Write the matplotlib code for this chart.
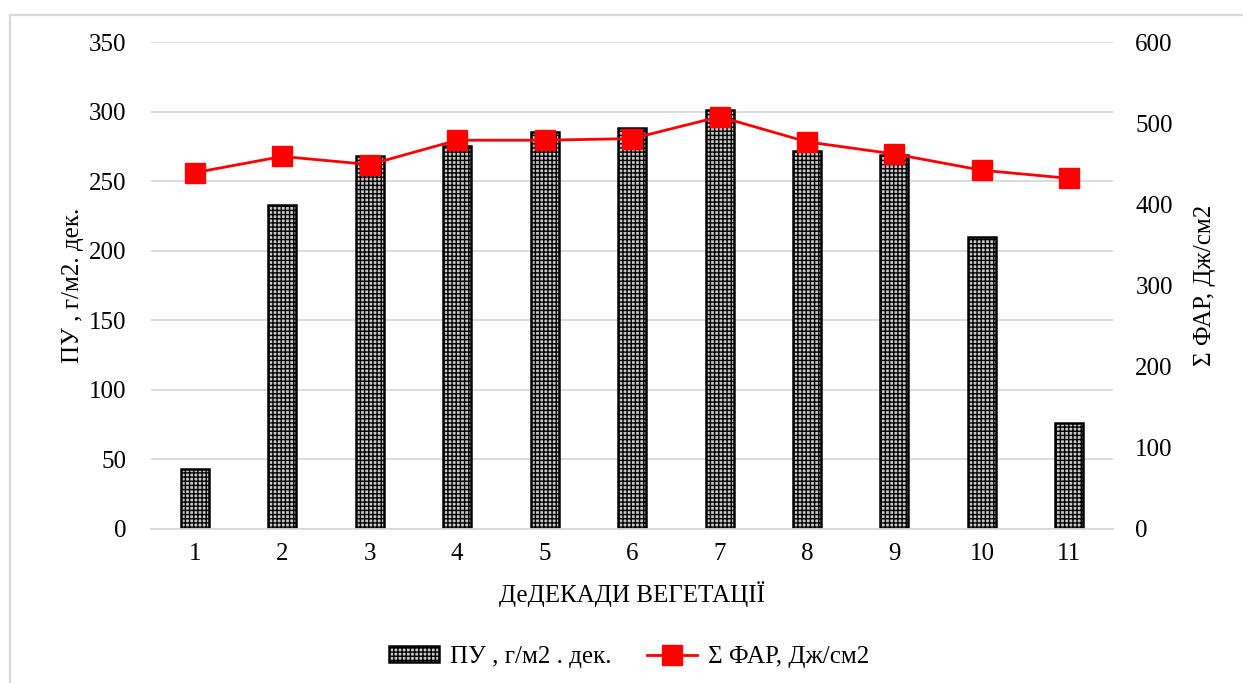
import matplotlib
matplotlib.use("Agg")
import matplotlib.pyplot as plt
from matplotlib.patches import Rectangle
import numpy as np

plt.rcParams['font.family'] = ['Liberation Serif', 'DejaVu Serif']
plt.rcParams['hatch.linewidth'] = 1.0

decades = ['1', '2', '3', '4', '5', '6', '7', '8', '9', '10', '11']
pu_values = [43, 233, 268, 275, 285, 288, 301, 272, 269, 210, 76]
far_values = [439, 459, 449, 479, 479, 481, 508, 477, 462, 442, 432]

bar_label = 'ПУ , г/м2 . дек.'
line_label = 'Σ ФАР, Дж/см2'

fig = plt.figure(figsize=(12.43, 6.83), dpi=100)
ax = fig.add_axes([0.1215, 0.2255, 0.774, 0.7130])
ax2 = ax.twinx()

x = np.arange(len(decades))
ax.bar(x, pu_values, width=0.32, facecolor='#c8c8c8', edgecolor='black',
       hatch='++++', linewidth=1.8, label=bar_label, zorder=2)
ax2.plot(x, far_values, color='#ff0000', linewidth=2, marker='s', markersize=14,
         markeredgecolor='#ff0000', label=line_label, zorder=3)

ax.set_xlim(-0.5, len(decades) - 0.5)
ax.set_ylim(0, 350)
ax.set_yticks(range(0, 351, 50))
ax2.set_ylim(0, 600)
ax2.set_yticks(range(0, 601, 100))
ax.set_xticks(x)
ax.set_xticklabels(decades)

ax.grid(axis='y', color='#d9d9d9', linewidth=1.3, zorder=0)
ax.set_axisbelow(True)
for a in (ax, ax2):
    for s in a.spines.values():
        s.set_visible(False)
ax.spines['bottom'].set_visible(True)
ax.spines['bottom'].set_color('#d9d9d9')
ax.spines['bottom'].set_linewidth(1.3)

fs = 18
ax.tick_params(axis='both', length=0, labelsize=fs, colors='black')
ax.tick_params(axis='y', pad=18)
ax.tick_params(axis='x', pad=10)
ax2.tick_params(axis='y', length=0, labelsize=fs, pad=16)

ax.set_ylabel('ПУ , г/м2. дек.', fontsize=fs, labelpad=3)
ax2.set_ylabel(line_label, fontsize=fs, labelpad=15, rotation=90)
ax.set_xlabel('ДеДЕКАДИ ВЕГЕТАЦІЇ', fontsize=fs, labelpad=12)

h1, l1 = ax.get_legend_handles_labels()
h2, l2 = ax2.get_legend_handles_labels()
fig.legend(h1 + h2, l1 + l2, loc='center', bbox_to_anchor=(0.506, 0.038), ncol=2,
           frameon=False, fontsize=fs, columnspacing=1.4, handlelength=2.0,
           handletextpad=0.45, handleheight=0.6)

# outer frame of the chart area
fig.add_artist(Rectangle((10 / 1243, -0.1), 1.2, 1 - 15 / 683 + 0.1,
                         transform=fig.transFigure, fill=False,
                         edgecolor='#d9d9d9', linewidth=1.6))

fig.savefig('out.png', dpi=100)
